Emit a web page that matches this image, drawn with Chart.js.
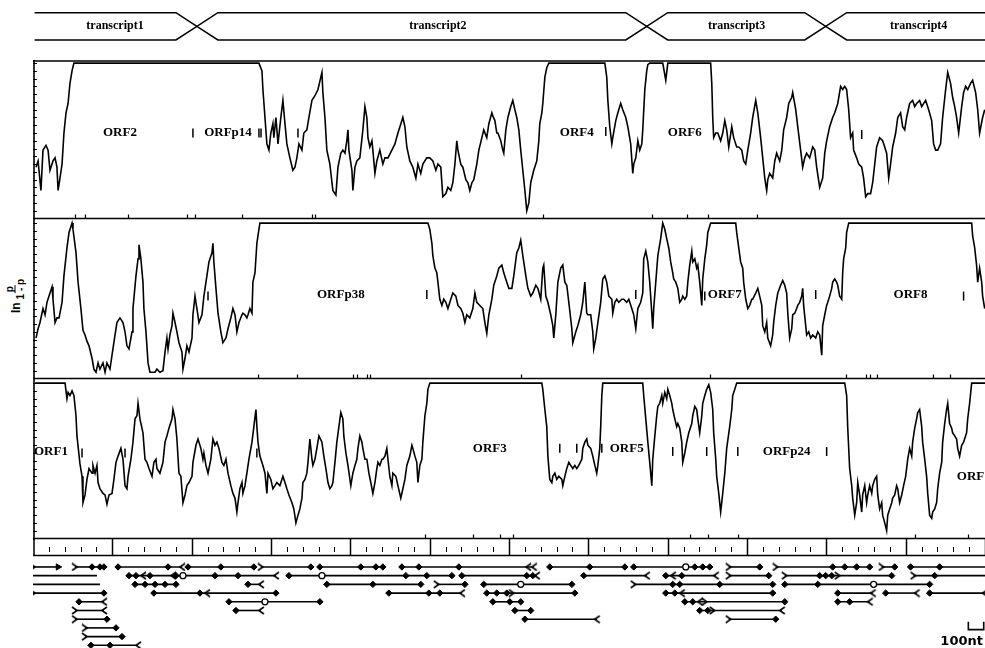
<!DOCTYPE html>
<html>
<head>
<meta charset="utf-8">
<script src="https://cdn.jsdelivr.net/npm/chart.js@4"></script>
<style>
  body { margin: 0; background: #fff; }
  #wrap { position: relative; width: 985px; height: 648px; overflow: hidden; background: #fff; }
  #wrap canvas { position: absolute; left: 33px; }
  #ylab { position: absolute; left: 15px; top: 296px; transform: translate(-50%, -50%) rotate(-90deg);
          font: bold 12px "Liberation Sans", sans-serif; white-space: nowrap; display: flex; align-items: center; gap: 3px; }
  .frac { display: inline-flex; flex-direction: column; align-items: center; font-size: 10px; line-height: 10px; }
  .frac span:first-child { border-bottom: 1px solid #000; padding: 0 1px; }
</style>
</head>
<body>
<div id="wrap">
  <canvas id="c-transc" width="952" height="40" style="top:8px"></canvas>
  <canvas id="c-p1" width="952" height="160" style="top:60px"></canvas>
  <canvas id="c-p2" width="952" height="160" style="top:220px"></canvas>
  <canvas id="c-p3" width="952" height="160" style="top:380px"></canvas>
  <canvas id="c-ruler" width="952" height="20" style="top:538px"></canvas>
  <canvas id="c-orfs" width="952" height="90" style="top:558px"></canvas>
  <div id="ylab">ln <span class="frac"><span>p</span><span>1 - p</span></span></div>
</div>
<script>
// genome position in nt, 0..6000

// transcripts (top bar)
const transcriptNames = ['transcript1', 'transcript2', 'transcript3', 'transcript4'];
const transcriptLabelPos = [517, 2552, 4435, 5582];
const transcriptBounds = [1033, 3868, 4996];
const transcriptStart = 10;
const transcriptEnd = 6000;
const crossHalf = 132;

// ln p/(1-p) traces, [nt, value], 10 = cap
const trace1 = [
  [19,3.3],[32,3.7],[50,1.8],[63,4.4],[82,4.7],[95,4.4],[107,3.1],[126,3.7],[139,3.9],[151,3.3],[158,1.8],[170,2.6],[183,3.5],[195,5.5],[208,6.8],[221,7.4],[233,8.7],[246,9.5],[258,10],
  [1424,10],[1443,9.5],[1449,8.3],[1462,6.5],[1474,4.8],[1487,4.4],[1499,5.5],[1512,6.1],[1518,5.2],[1531,6.5],[1544,4.8],[1562,6.5],[1575,7.6],[1588,6.1],[1600,4.8],[1619,3.9],[1638,3.1],[1651,3.3],[1663,3.9],[1676,4.8],[1695,4.4],[1707,5.5],[1726,5.7],[1739,6.5],[1758,7.6],[1777,7.9],[1796,8.3],[1814,9.1],[1821,9.4],[1827,8.1],[1840,6.5],[1852,4.4],[1871,3.5],
  [1890,1.8],[1909,1.5],[1922,3.3],[1940,4.2],[1953,4.4],[1966,4.2],[1978,5.0],[1985,5.7],[1991,4.4],[2010,3.1],[2016,1.8],[2029,3.3],[2041,3.7],[2060,3.9],[2079,5.7],[2092,7.2],[2104,6.5],[2111,5.2],[2123,4.6],[2136,5.0],[2142,4.4],[2155,2.9],[2167,3.7],[2186,4.4],[2205,3.5],[2218,3.9],[2237,3.9],[2262,4.4],[2281,4.8],[2300,5.5],[2325,6.3],[2331,6.5],[2344,5.9],[2356,4.6],[2375,3.7],[2394,3.3],[2413,2.6],[2426,3.5],[2444,2.9],[2457,3.5],[2482,3.9],[2501,3.9],[2520,3.7],[2539,3.1],[2552,3.5],[2570,3.3],[2583,1.4],[2602,1.6],[2615,2.0],[2633,1.8],[2646,2.3],[2659,3.5],[2671,5.0],[2678,4.4],[2696,3.5],[2709,3.3],[2728,2.5],[2741,2.3],[2753,1.8],[2766,2.3],[2778,2.5],[2797,3.5],[2810,4.4],[2829,5.2],[2841,5.7],[2860,5.2],[2873,6.1],[2892,6.8],[2898,6.6],[2911,6.3],[2923,5.5],[2930,5.5],[2948,5.0],[2961,4.4],[2967,4.2],[2980,5.7],[2993,6.5],[3011,7.2],[3024,7.6],[3037,7.0],[3049,6.5],[3062,5.7],[3074,4.4],[3087,3.1],[3100,1.8],[3112,0.5],[3125,1.0],[3137,2.3],[3156,3.1],[3175,3.7],[3188,5.0],[3194,6.1],[3207,6.8],[3213,7.4],[3226,9.1],[3238,9.7],[3251,10],
  [3604,10],[3616,9.1],[3623,7.6],[3635,5.9],[3648,4.8],[3654,5.2],[3673,6.3],[3686,6.8],[3704,7.4],[3717,7.0],[3736,6.5],[3749,5.9],[3767,4.8],[3780,2.9],[3786,3.5],[3799,3.9],[3812,5.0],[3824,4.4],[3837,4.8],[3843,5.7],[3856,8.3],[3868,9.5],[3875,9.9],[3887,10],[3969,10],[3988,8.9],[4001,10],
  [4271,10],[4278,8.7],[4284,6.5],[4290,5.2],[4303,5.5],[4316,5.5],[4334,5.0],[4347,5.5],[4360,6.3],[4372,5.7],[4385,4.6],[4404,5.9],[4416,5.2],[4435,4.6],[4448,4.6],[4467,4.4],[4479,3.7],[4492,3.5],[4505,4.4],[4523,5.5],[4536,6.5],[4555,7.6],[4568,6.8],[4586,5.2],[4599,3.9],[4612,2.6],[4624,1.8],[4631,2.5],[4643,2.9],[4662,2.6],[4675,3.7],[4687,4.2],[4706,3.7],[4719,4.4],[4731,5.7],[4750,6.5],[4763,7.4],[4782,7.8],[4788,8.1],[4807,7.0],[4820,5.9],[4838,4.4],[4851,3.3],[4864,3.9],[4876,4.2],[4895,3.9],[4914,4.6],[4927,4.4],[4939,3.3],[4958,2.0],[4977,2.6],[4990,4.2],[5002,5.0],[5021,5.9],[5040,6.5],[5053,6.8],[5072,7.4],[5090,8.5],[5103,8.3],[5116,8.5],[5128,8.3],[5141,7.0],[5153,5.2],[5166,5.5],[5172,4.4],[5191,3.9],[5204,3.5],[5223,3.3],[5235,2.6],[5248,1.4],[5261,1.6],[5279,1.6],[5292,2.3],[5305,3.5],[5317,4.6],[5336,5.2],[5355,5.0],[5368,4.6],[5380,4.2],[5393,2.6],[5405,3.5],[5418,4.6],[5437,5.5],[5450,6.5],[5468,6.8],[5481,5.9],[5494,5.7],[5506,6.5],[5525,7.4],[5544,7.6],[5557,7.2],[5569,7.4],[5588,7.6],[5601,7.2],[5626,7.6],[5645,7.0],[5664,6.3],[5676,4.8],[5689,4.4],[5702,4.4],[5720,4.8],[5733,6.5],[5752,8.3],[5765,9.4],[5783,8.7],[5796,7.8],[5809,7.2],[5821,6.5],[5834,5.5],[5853,7.2],[5865,8.1],[5878,8.5],[5891,8.3],[5909,8.7],[5922,8.9],[5941,8.1],[5954,7.0],[5966,5.5],[5985,6.5],[5998,7.0]
];
const trace2 = [
  [19,2.6],[32,3.2],[44,3.6],[63,4.5],[76,4.1],[88,4.9],[101,5.3],[120,5.9],[126,5.1],[139,3.6],[151,3.9],[164,3.9],[183,4.9],[195,6.6],[214,8.4],[227,9.4],[246,10],[252,9.6],[271,8.1],[284,6.2],[302,4.5],[315,3.1],[328,2.8],[340,2.4],[353,2.1],[372,1.3],[384,0.6],[397,0.4],[410,1.0],[422,0.6],[441,1.0],[454,0.4],[466,1.0],[485,0.6],[498,1.5],[517,2.8],[529,3.6],[548,3.9],[567,3.6],[580,3.0],[592,2.1],[605,1.9],[624,3.0],[630,4.5],[649,6.6],[662,7.7],[668,8.6],[680,7.7],[693,6.2],[699,4.5],[712,3.0],[725,1.0],[737,0.4],[756,0.4],[769,0.4],[781,0.6],[800,0.4],[819,0.5],[832,1.7],[844,2.6],[851,1.9],[863,2.8],[876,3.4],[882,4.2],[895,3.6],[907,3.0],[920,2.3],[939,1.7],[945,0.6],[958,1.3],[970,2.1],[983,1.7],[1002,2.6],[1008,4.1],[1021,5.3],[1033,4.5],[1046,3.6],[1065,4.1],[1077,5.3],[1096,6.6],[1109,7.5],[1128,8.1],[1134,8.7],[1140,7.5],[1153,5.8],[1166,4.2],[1184,3.0],[1197,2.3],[1216,2.6],[1229,3.2],[1247,3.9],[1260,4.5],[1273,4.1],[1285,3.0],[1298,3.6],[1317,4.1],[1323,4.2],[1336,4.1],[1348,3.9],[1355,4.1],[1367,4.5],[1380,4.2],[1386,6.2],[1399,6.8],[1411,8.7],[1418,9.2],[1430,10],
  [2489,10],[2501,9.6],[2514,8.7],[2520,7.9],[2533,7.1],[2545,6.8],[2552,6.2],[2564,5.1],[2577,4.7],[2589,5.1],[2602,4.9],[2615,4.5],[2633,5.1],[2646,5.5],[2665,5.3],[2678,4.7],[2696,4.5],[2709,4.2],[2722,3.6],[2734,4.1],[2753,3.9],[2772,4.5],[2785,5.5],[2797,4.9],[2816,4.7],[2835,4.5],[2848,3.6],[2860,2.9],[2873,4.1],[2892,5.1],[2904,6.0],[2923,6.6],[2936,7.1],[2955,7.3],[2967,6.8],[2986,6.2],[2999,5.8],[3018,5.8],[3030,6.6],[3049,8.1],[3062,8.4],[3074,8.9],[3087,7.9],[3106,6.6],[3119,5.8],[3137,5.3],[3150,5.5],[3169,6.0],[3182,5.8],[3200,5.1],[3213,7.1],[3219,7.3],[3232,5.3],[3245,4.9],[3263,4.1],[3276,3.4],[3282,2.6],[3295,4.1],[3308,6.2],[3326,7.1],[3339,7.3],[3352,6.2],[3364,6.0],[3377,4.9],[3396,3.2],[3402,2.3],[3421,3.0],[3434,3.4],[3452,4.1],[3465,4.9],[3478,6.2],[3490,4.2],[3497,4.1],[3515,4.1],[3528,3.0],[3534,1.9],[3547,2.6],[3560,3.6],[3578,4.9],[3591,6.4],[3604,6.6],[3616,6.2],[3629,5.3],[3648,5.1],[3654,4.2],[3667,4.9],[3679,5.1],[3692,4.9],[3711,5.1],[3723,5.1],[3742,4.9],[3755,5.1],[3774,4.5],[3786,4.1],[3799,3.2],[3812,4.5],[3830,4.9],[3843,5.5],[3849,7.7],[3862,8.2],[3875,7.5],[3887,6.2],[3900,4.2],[3906,3.2],[3912,4.5],[3925,6.2],[3938,7.9],[3956,9.0],[3969,10],[3982,9.6],[3994,9.0],[4007,8.4],[4019,7.5],[4032,6.8],[4038,6.4],[4051,6.2],[4064,5.8],[4076,4.9],[4089,5.1],[4095,5.3],[4108,5.1],[4120,5.3],[4127,6.2],[4139,7.3],[4152,8.2],[4158,7.5],[4171,7.7],[4183,7.1],[4190,7.3],[4202,6.2],[4215,4.7],[4221,6.4],[4234,7.7],[4246,8.6],[4253,9.4],[4271,10],
  [4429,10],[4435,9.4],[4448,8.4],[4460,7.5],[4473,7.1],[4479,6.2],[4492,5.1],[4505,4.5],[4517,4.7],[4530,5.1],[4536,5.1],[4555,5.5],[4568,5.8],[4580,5.3],[4593,4.7],[4599,3.4],[4612,3.0],[4624,3.6],[4631,2.6],[4649,2.1],[4662,2.8],[4668,3.6],[4681,4.7],[4694,5.5],[4712,6.0],[4725,6.3],[4738,6.0],[4750,5.5],[4757,4.2],[4769,2.6],[4782,3.2],[4788,4.1],[4801,4.2],[4813,4.5],[4820,4.7],[4832,4.9],[4845,5.3],[4851,5.8],[4857,4.7],[4870,3.4],[4876,2.8],[4889,3.0],[4901,2.6],[4914,2.8],[4933,2.6],[4946,3.0],[4958,2.8],[4971,1.5],[4977,3.4],[4990,4.1],[5002,4.7],[5009,4.9],[5021,5.3],[5034,5.8],[5040,6.2],[5053,6.4],[5065,6.2],[5072,6.0],[5084,5.3],[5097,5.1],[5103,6.8],[5109,7.7],[5122,8.4],[5128,9.4],[5141,10],
  [5916,10],[5922,9.2],[5935,8.4],[5947,7.3],[5954,6.2],[5966,7.1],[5979,6.2],[5985,5.3],[5998,4.5]
];
const trace3 = [
  [13,10],[202,10],[214,9.0],[221,9.4],[233,9.2],[246,9.5],[258,9.2],[271,7.9],[277,6.6],[296,4.8],[309,4.0],[315,2.3],[328,2.8],[340,3.8],[353,4.5],[372,4.2],[378,4.7],[391,4.2],[403,4.7],[410,3.6],[422,3.2],[441,2.9],[454,2.8],[466,2.2],[479,2.8],[498,2.9],[510,3.8],[523,4.9],[536,5.3],[554,5.8],[567,5.1],[580,3.4],[592,3.2],[599,4.0],[617,5.1],[630,6.2],[643,7.7],[655,7.9],[662,8.7],[674,7.7],[693,6.8],[706,5.1],[718,4.9],[731,4.5],[750,4.0],[762,4.9],[775,5.1],[781,4.5],[800,4.2],[819,4.9],[832,6.2],[844,6.6],[857,7.1],[876,7.7],[882,8.3],[895,7.7],[907,6.4],[920,4.2],[932,4.0],[945,2.3],[958,2.8],[970,3.4],[983,3.6],[1002,4.0],[1008,4.9],[1027,6.0],[1040,6.4],[1058,5.8],[1071,5.1],[1077,5.5],[1090,4.7],[1103,4.2],[1121,5.1],[1134,6.4],[1147,6.0],[1159,6.2],[1172,5.8],[1191,4.9],[1203,4.7],[1216,5.1],[1229,4.2],[1247,3.4],[1260,2.9],[1273,2.6],[1285,1.7],[1292,2.3],[1304,3.2],[1317,3.6],[1323,2.9],[1336,3.4],[1348,4.2],[1361,5.1],[1380,6.2],[1392,7.2],[1405,8.3],[1411,7.2],[1418,6.2],[1430,5.3],[1449,4.7],[1462,4.2],[1474,2.9],[1481,4.2],[1499,3.8],[1512,3.2],[1525,3.4],[1537,3.6],[1556,3.4],[1575,4.0],[1588,3.6],[1600,3.2],[1613,2.8],[1632,2.3],[1644,1.9],[1657,1.0],[1670,1.5],[1682,1.9],[1695,2.6],[1701,3.6],[1714,3.8],[1726,4.2],[1733,4.9],[1745,6.4],[1758,5.1],[1764,4.7],[1777,5.1],[1789,5.8],[1802,6.6],[1821,6.2],[1833,5.3],[1846,4.5],[1859,3.6],[1871,3.2],[1884,3.4],[1890,3.6],[1903,4.9],[1915,6.2],[1928,7.2],[1940,8.1],[1953,7.7],[1959,6.6],[1972,5.5],[1985,4.7],[2003,3.4],[2016,4.2],[2029,4.7],[2041,5.1],[2048,5.8],[2060,6.6],[2073,6.2],[2079,5.8],[2092,5.1],[2104,5.1],[2117,4.2],[2129,3.6],[2142,2.9],[2155,3.6],[2167,4.5],[2174,4.9],[2186,4.7],[2199,5.1],[2205,5.1],[2218,5.3],[2230,5.8],[2237,5.1],[2249,4.0],[2262,3.4],[2268,4.2],[2287,4.0],[2300,3.4],[2318,2.6],[2331,3.2],[2344,3.8],[2356,4.7],[2375,5.3],[2388,6.0],[2394,5.8],[2407,5.3],[2419,4.9],[2426,3.6],[2438,4.7],[2451,5.1],[2457,6.2],[2470,7.9],[2482,8.7],[2489,9.6],[2501,10],
  [3207,10],[3213,9.6],[3226,8.3],[3238,7.2],[3245,5.3],[3257,3.8],[3270,3.6],[3276,4.0],[3289,4.2],[3301,3.8],[3314,4.0],[3333,3.8],[3339,3.4],[3352,4.0],[3364,4.5],[3377,4.9],[3389,4.7],[3402,4.5],[3415,4.7],[3427,4.5],[3440,4.7],[3459,5.1],[3465,5.8],[3478,6.2],[3490,6.4],[3497,6.0],[3515,5.8],[3528,5.3],[3541,4.7],[3553,4.2],[3560,4.7],[3572,5.8],[3578,7.2],[3585,9.2],[3591,10],
  [3843,10],[3849,9.2],[3862,7.7],[3875,6.2],[3887,4.9],[3900,3.4],[3906,5.1],[3919,6.6],[3931,7.9],[3938,8.5],[3950,8.7],[3963,9.2],[3969,8.7],[3982,9.4],[3994,9.0],[4001,9.6],[4013,9.2],[4026,8.7],[4032,8.3],[4045,7.7],[4057,7.2],[4064,7.4],[4076,7.1],[4089,6.2],[4095,4.9],[4108,5.5],[4120,6.2],[4133,6.8],[4152,7.4],[4158,7.9],[4171,8.5],[4183,8.3],[4190,7.7],[4202,6.8],[4215,7.9],[4221,8.7],[4234,9.2],[4246,9.6],[4259,9.9],[4271,9.4],[4284,8.3],[4290,6.8],[4303,5.1],[4309,4.0],[4322,2.9],[4334,1.7],[4347,2.9],[4360,4.2],[4372,5.8],[4391,7.2],[4404,8.3],[4410,9.2],[4423,9.6],[4435,10],
  [5116,10],[5128,9.2],[5135,7.1],[5147,4.5],[5160,3.4],[5166,2.6],[5179,1.5],[5191,2.3],[5198,3.6],[5210,2.8],[5223,1.7],[5229,2.8],[5242,3.4],[5254,2.3],[5261,2.8],[5273,3.4],[5286,2.9],[5292,3.4],[5305,3.8],[5317,4.0],[5324,2.8],[5336,1.9],[5349,2.3],[5355,1.5],[5368,1.0],[5380,0.5],[5387,1.5],[5399,1.9],[5412,2.3],[5418,2.6],[5431,2.8],[5443,3.4],[5450,3.2],[5462,2.3],[5475,2.8],[5487,3.4],[5500,4.0],[5513,5.1],[5525,5.8],[5538,5.3],[5544,6.2],[5557,7.1],[5569,7.7],[5576,8.1],[5588,8.3],[5601,7.2],[5607,6.2],[5620,5.1],[5632,4.0],[5639,2.9],[5651,1.5],[5664,1.3],[5670,1.7],[5683,1.9],[5695,2.3],[5702,3.2],[5714,4.2],[5727,4.9],[5733,6.2],[5746,7.4],[5758,8.3],[5765,8.7],[5777,7.4],[5790,7.1],[5796,6.8],[5809,6.6],[5821,6.4],[5828,5.8],[5840,5.3],[5853,6.0],[5865,6.2],[5884,6.8],[5891,7.7],[5903,8.7],[5916,10],[6000,10]
];

// ORF names inside panels: [name, nt, value]
const labels1 = [['ORF2', 548, 5.5], ['ORFp14', 1229, 5.5], ['ORF4', 3427, 5.5], ['ORF6', 4108, 5.5]];
const labels2 = [['ORFp38', 1940, 5.4], ['ORF7', 4360, 5.4], ['ORF8', 5531, 5.4]];
const labels3 = [['ORF1', 113, 5.6], ['ORF3', 2879, 5.8], ['ORF5', 3742, 5.8], ['ORFp24', 4750, 5.6], ['ORF', 5909, 4.0]];

// short bars beside the labels: [nt, value]
const bars1 = [[1008,5.5],[1424,5.5],[1437,5.5],[1670,5.5],[3610,5.6],[5223,5.4]];
const bars2 = [[1103,5.3],[2482,5.4],[3799,5.4],[4234,5.3],[4933,5.4],[5865,5.3]];
const bars3 = [[309,5.5],[580,5.5],[1411,5.5],[3320,5.8],[3427,5.8],[3585,5.8],[4032,5.6],[4246,5.6],[4442,5.6],[5002,5.6]];

// marks on the lower edge of each panel (nt)
const edge1 = [265, 328, 599, 970, 1021, 1317, 1758, 1777, 3213, 3900, 4120, 4253, 4561];
const edge2 = [1418, 1663, 2016, 2041, 2104, 2123, 3074, 4265, 5122, 5248, 5273, 5317, 5670, 5777];
const edge3 = [2470, 2772, 2942, 3024, 4139, 4253, 4442, 5557, 5891];

// ORF map: [row, start nt, end nt, start glyph, end glyph]
const orfs = [
  [0,0,158,'tail','head'],[0,265,447,'tail','node'],[0,536,939,'node','notch'],[0,977,1392,'node','node'],[0,1436,1751,'tail','node'],
  [0,1808,2205,'node','node'],[0,2325,3156,'node','notch'],[0,3257,3730,'node','node'],[0,3786,4265,'node','node'],[0,4385,4580,'tail','node'],
  [0,4681,5273,'tail','node'],[0,5349,5431,'tail','node'],[0,5531,6000,'node',''],
  [1,0,403,'',''],[1,605,882,'node','notch'],[1,901,1531,'node','notch'],[1,1613,2640,'node','node'],[1,2703,3175,'node','notch'],
  [1,3471,3868,'node','notch'],[1,3988,4303,'node','notch'],[1,4385,4637,'tail','node'],[1,4738,5412,'tail','node'],[1,5550,6000,'tail',''],
  [2,0,422,'',''],[2,643,901,'node','node'],[2,1355,1436,'node','notch'],[2,1852,2444,'node','node'],[2,2545,2722,'tail','node'],
  [2,2841,3396,'node','node'],[2,3786,4662,'tail','node'],[2,4738,5651,'node','node'],
  [3,0,447,'tail','node'],[3,762,1531,'node','node'],[3,2243,2703,'node','notch'],[3,2860,3415,'node','node'],[3,3988,4662,'node','node'],
  [3,5072,5292,'node','notch'],[3,5374,5569,'node','notch'],[3,5651,5998,'node','notch'],
  [4,290,447,'node','notch'],[4,1235,1808,'node','node'],[4,2898,3074,'node','node'],[4,4108,4738,'node','node'],[4,5072,5273,'node','notch'],
  [5,265,447,'tail','notch'],[5,1279,1436,'node','notch'],[5,3037,3137,'node','node'],[5,4202,4719,'node','notch'],
  [6,265,466,'tail','node'],[6,3100,3553,'node','notch'],[6,4385,4681,'tail','node'],
  [7,328,523,'tail','node'],
  [8,328,561,'tail','node'],
  [9,365,662,'node','notch']
];
// glyphs inside ORFs: [row, nt]
const orfNodes = [
  [0,372],[0,422],[0,851],[0,1184],[0,2066],[0,2161],[0,2432],[0,2684],[0,3509],[0,4171],[0,4221],[0,5040],[0,5116],[0,5191],[0,5714],
  [1,649],[1,737],[1,1147],[1,1292],[1,2350],[1,2482],[1,3112],[1,3150],[1,4089],[1,4958],[1,4996],[1,5034],[1,5683],
  [2,706],[2,769],[2,832],[2,2142],[2,4032],[2,4076],[2,4328],[2,4946],
  [3,1052],[3,2495],[3,2564],[3,2923],[3,2986],[3,4045],
  [4,3005],[4,4158],[4,5147],
  [5,4253],
  [9,485]
];
const orfRings = [[0,4114],[1,945],[1,1821],[2,3074],[2,5298],[4,1462]];
const orfNotches = [[0,3120],[1,693],[1,4032],[3,1096],[3,4089],[4,4202]];
const orfTails = [[1,5072],[3,3018],[4,4234],[5,4284]];

// scale bar
const scaleBarNt = [5895, 5992];
const scaleBarText = '100nt';

const rulerMinor = 100;
const rulerMajor = 500;

function opcoesBase(yMin, yMax, reverse) {
    return {
        responsive: false, animation: false, devicePixelRatio: 1, events: [],
        layout: { padding: 0, autoPadding: false },
        plugins: { legend: { display: false }, tooltip: { enabled: false } },
        scales: {
            x: { type: 'linear', min: 0, max: 6000, display: false },
            y: { type: 'linear', min: yMin, max: yMax, reverse: !!reverse, display: false }
        }
    };
}

function pts(list) { return list.map(([x, y]) => ({ x, y })); }

// frame, ticks and labels of one panel
const moldura = {
    id: 'moldura',
    afterDatasetsDraw(chart, args, o) {
        const { ctx, chartArea: a, scales: { x, y } } = chart;
        const y0 = Math.round(y.getPixelForValue(0)) + 0.5;
        ctx.save();
        ctx.strokeStyle = '#000';
        ctx.lineWidth = 1.6;
        ctx.beginPath();
        if (o.top) { ctx.moveTo(a.left, a.top + 1); ctx.lineTo(a.right, a.top + 1); }
        ctx.moveTo(a.left, y0); ctx.lineTo(a.right, y0);
        ctx.moveTo(a.left + 1, a.top); ctx.lineTo(a.left + 1, a.bottom);
        ctx.stroke();
        ctx.lineWidth = 1;
        ctx.beginPath();
        for (let v = 0.5; v <= 10; v += 0.5) {
            const py = Math.round(y.getPixelForValue(v)) + 0.5;
            ctx.moveTo(a.left, py); ctx.lineTo(a.left + 4, py);
        }
        ctx.stroke();
        ctx.lineWidth = 1.2;
        ctx.beginPath();
        o.edge.forEach(m => {
            const px = Math.round(x.getPixelForValue(m)) + 0.5;
            ctx.moveTo(px, y0); ctx.lineTo(px, y0 - 4);
        });
        ctx.stroke();
        ctx.fillStyle = '#000';
        ctx.font = 'bold 13px "Liberation Serif", serif';
        ctx.textAlign = 'center';
        ctx.textBaseline = 'middle';
        o.labels.forEach(([t, nt, v]) => ctx.fillText(t, x.getPixelForValue(nt), y.getPixelForValue(v)));
        ctx.restore();
    }
};

function criarPainel(id, trace, labels, bars, edge, top) {
    const opts = opcoesBase(-0.1, 10.2);
    opts.plugins.moldura = { labels, edge, top };
    new Chart(document.getElementById(id), {
        type: 'scatter',
        data: {
            datasets: [
                { data: pts(bars), pointStyle: 'line', pointRotation: 90, pointRadius: 4.5,
                  pointBorderColor: '#000', pointBorderWidth: 1.5 },
                { data: pts(trace), showLine: true, borderColor: '#000', borderWidth: 1.6,
                  pointRadius: 0, clip: 2 }
            ]
        },
        options: opts,
        plugins: [moldura]
    });
}

// top bar with the four transcripts
function criarTranscritos() {
    function linha(yv) {
        const p = [{ x: transcriptStart, y: yv }];
        transcriptBounds.forEach(b => {
            p.push({ x: b - crossHalf, y: yv }, { x: b, y: 0.5 }, { x: b + crossHalf, y: yv });
        });
        p.push({ x: transcriptEnd, y: yv });
        return p;
    }
    const opts = opcoesBase(-0.293, 1.172);
    new Chart(document.getElementById('c-transc'), {
        type: 'scatter',
        data: {
            datasets: [
                { data: linha(1), showLine: true, borderColor: '#000', borderWidth: 1.6, pointRadius: 0, clip: 2 },
                { data: linha(0), showLine: true, borderColor: '#000', borderWidth: 1.6, pointRadius: 0, clip: 2 }
            ]
        },
        options: opts,
        plugins: [{
            id: 'nomes',
            afterDatasetsDraw(chart) {
                const { ctx, scales: { x, y } } = chart;
                ctx.save();
                ctx.fillStyle = '#000';
                ctx.font = 'bold 12px "Liberation Serif", serif';
                ctx.textAlign = 'center';
                ctx.textBaseline = 'middle';
                transcriptNames.forEach((n, i) => ctx.fillText(n, x.getPixelForValue(transcriptLabelPos[i]), y.getPixelForValue(0.5)));
                ctx.restore();
            }
        }]
    });
}

// ruler under the panels
function criarRegua() {
    const opts = opcoesBase(0, 1);
    new Chart(document.getElementById('c-ruler'), {
        type: 'scatter',
        data: { datasets: [] },
        options: opts,
        plugins: [{
            id: 'regua',
            afterDraw(chart) {
                const { ctx, chartArea: a, scales: { x } } = chart;
                ctx.save();
                ctx.strokeStyle = '#000';
                ctx.lineWidth = 1.5;
                ctx.beginPath();
                ctx.moveTo(a.left, 17.5); ctx.lineTo(a.right, 17.5);
                ctx.stroke();
                for (let nt = 0; nt <= 6000; nt += rulerMinor) {
                    const px = Math.round(x.getPixelForValue(nt)) + 0.5;
                    const major = nt % rulerMajor === 0;
                    ctx.lineWidth = major ? 1.5 : 1;
                    ctx.beginPath();
                    ctx.moveTo(nt === 0 ? px + 0.5 : px, major ? 0 : 9);
                    ctx.lineTo(nt === 0 ? px + 0.5 : px, major ? 17.5 : 14);
                    ctx.stroke();
                }
                ctx.restore();
            }
        }]
    });
}

function chevron(dir) {
    const c = document.createElement('canvas');
    c.width = 8; c.height = 9;
    const g = c.getContext('2d');
    g.strokeStyle = '#000';
    g.lineWidth = 1.6;
    g.beginPath();
    if (dir === '>') { g.moveTo(1, 1); g.lineTo(6, 4.5); g.lineTo(1, 8); }
    else { g.moveTo(7, 1); g.lineTo(2, 4.5); g.lineTo(7, 8); }
    g.stroke();
    return c;
}

// ORF map
function criarMapaOrfs() {
    const chevR = chevron('>');
    const chevL = chevron('<');
    const glifo = {
        node:  { style: 'rectRot', r: 3.2, rot: 0 },
        head:  { style: 'triangle', r: 3.6, rot: 90 },
        tail:  { style: chevR, r: 4, rot: 0 },
        notch: { style: chevL, r: 4, rot: 0 },
        '':    { style: 'circle', r: 0, rot: 0 }
    };
    const conj = list => list.map(([r, nt]) => ({ x: nt, y: r }));
    const datasets = [
        { data: conj(orfRings), pointStyle: 'circle', pointRadius: 3, pointBackgroundColor: '#fff',
          pointBorderColor: '#000', pointBorderWidth: 1.3, clip: false },
        { data: conj(orfNodes), pointStyle: 'rectRot', pointRadius: 3.2, pointBackgroundColor: '#000',
          pointBorderColor: '#000', pointBorderWidth: 1, clip: false },
        { data: conj(orfNotches), pointStyle: chevL, pointRadius: 4, clip: false },
        { data: conj(orfTails), pointStyle: chevR, pointRadius: 4, clip: false },
        { data: [{ x: scaleBarNt[0], y: 6.3 }, { x: scaleBarNt[0], y: 7.2 }, { x: scaleBarNt[1], y: 7.2 }, { x: scaleBarNt[1], y: 6.3 }],
          showLine: true, borderColor: '#000', borderWidth: 1.6, pointRadius: 0, clip: false }
    ];
    orfs.forEach(([row, s, e, k1, k2]) => {
        const a = glifo[k1], b = glifo[k2];
        datasets.push({
            data: [{ x: s, y: row }, { x: e, y: row }],
            showLine: true, borderColor: '#000', borderWidth: 1.6, clip: false,
            pointStyle: [a.style, b.style], pointRadius: [a.r, b.r], pointRotation: [a.rot, b.rot],
            pointBackgroundColor: '#000', pointBorderColor: '#000', pointBorderWidth: 1
        });
    });
    const opts = opcoesBase(-1.03, 9.31, true);
    new Chart(document.getElementById('c-orfs'), {
        type: 'scatter',
        data: { datasets },
        options: opts,
        plugins: [{
            id: 'escala',
            afterDatasetsDraw(chart) {
                const { ctx, scales: { x, y } } = chart;
                ctx.save();
                ctx.fillStyle = '#000';
                ctx.font = 'bold 13px "DejaVu Sans", sans-serif';
                ctx.textAlign = 'center';
                ctx.textBaseline = 'middle';
                ctx.fillText(scaleBarText, x.getPixelForValue(5853), y.getPixelForValue(8.6));
                ctx.restore();
            }
        }]
    });
}

criarTranscritos();
criarPainel('c-p1', trace1, labels1, bars1, edge1, true);
criarPainel('c-p2', trace2, labels2, bars2, edge2, false);
criarPainel('c-p3', trace3, labels3, bars3, edge3, false);
criarRegua();
criarMapaOrfs();
</script>
</body>
</html>
